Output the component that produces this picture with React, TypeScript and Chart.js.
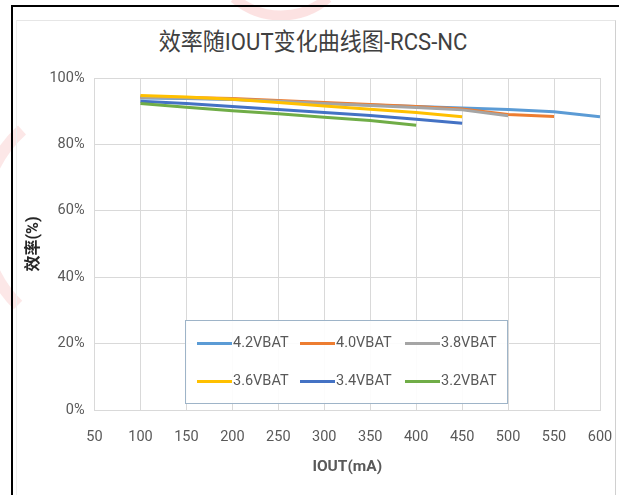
import React, { useEffect, useRef } from "react";
import { Chart, registerables } from "chart.js";

Chart.register(...registerables);

// Output current (mA) at each measurement point
const IOUT_MA = [100, 150, 200, 250, 300, 350, 400, 450, 500, 550, 600];

// Efficiency (%) per battery voltage; shorter series stop at lower currents
const EFF_42V = [94.0, 93.8, 93.5, 93.0, 92.4, 91.9, 91.4, 91.0, 90.5, 89.8, 88.3];
const EFF_40V = [94.3, 94.1, 93.8, 93.2, 92.6, 92.0, 91.4, 90.7, 89.0, 88.4];
const EFF_38V = [94.2, 94.0, 93.6, 93.0, 92.3, 91.7, 91.1, 90.4, 88.6];
const EFF_36V = [94.7, 94.3, 93.6, 92.6, 91.6, 90.6, 89.6, 88.3];
const EFF_34V = [93.0, 92.3, 91.4, 90.5, 89.6, 88.7, 87.6, 86.4];
const EFF_32V = [92.3, 91.2, 90.1, 89.2, 88.2, 87.2, 85.8];

const SERIES_NAMES = ["4.2VBAT", "4.0VBAT", "3.8VBAT", "3.6VBAT", "3.4VBAT", "3.2VBAT"];
const SERIES_VALUES = [EFF_42V, EFF_40V, EFF_38V, EFF_36V, EFF_34V, EFF_32V];
const SERIES_COLORS = ["#5B9BD5", "#ED7D31", "#A5A5A5", "#FFC000", "#4472C4", "#70AD47"];

const X_MIN = 50;
const X_MAX = 600;
const X_STEP = 50;
const Y_MIN = 0;
const Y_MAX = 100;
const Y_STEP = 20;

const TITLE = "效率随IOUT变化曲线图-RCS-NC";
const X_TITLE = "IOUT(mA)";
const Y_TITLE = "效率(%)";

const LATIN = 'Roboto, "Noto Sans CJK SC", sans-serif';
const TEXT_GRAY = "#595959";
const GRID = "#D9D9D9";

export default function App() {
  const canvasRef = useRef<HTMLCanvasElement | null>(null);

  useEffect(() => {
    const canvas = canvasRef.current;
    if (!canvas) return;

    const datasets = SERIES_NAMES.map((name, i) => ({
      label: name,
      data: SERIES_VALUES[i].map((v, j) => ({ x: IOUT_MA[j], y: v })),
      borderColor: SERIES_COLORS[i],
      backgroundColor: SERIES_COLORS[i],
      borderWidth: 3,
      pointRadius: 0,
      tension: 0,
      fill: false,
      // first series sits at the bottom of the stack
      order: SERIES_NAMES.length - i,
    }));

    const chart = new Chart(canvas, {
      type: "line",
      data: { datasets },
      options: {
        animation: false,
        responsive: false,
        maintainAspectRatio: false,
        devicePixelRatio: 1,
        layout: { padding: { left: 20, right: 19, top: 78, bottom: 19 } },
        plugins: {
          legend: { display: false },
          title: { display: false },
          tooltip: { enabled: false },
        },
        scales: {
          x: {
            type: "linear",
            min: X_MIN,
            max: X_MAX,
            afterFit: (s: any) => {
              s.height = 66;
              s.paddingLeft = 0;
              s.paddingRight = 0;
            },
            ticks: {
              stepSize: X_STEP,
              color: TEXT_GRAY,
              padding: 19,
              font: { family: LATIN, size: 14.5 },
            },
            grid: { color: GRID, drawTicks: false },
            border: { color: GRID },
            title: {
              display: true,
              text: X_TITLE,
              color: TEXT_GRAY,
              font: { family: LATIN, size: 15.5, weight: "bold" },
              padding: { top: 0, bottom: 0 },
            },
          },
          y: {
            min: Y_MIN,
            max: Y_MAX,
            afterFit: (s: any) => {
              s.width = 74.5;
            },
            ticks: {
              stepSize: Y_STEP,
              color: TEXT_GRAY,
              padding: 10,
              font: { family: LATIN, size: 14.5 },
              callback: (v: any) => `${v}%`,
            },
            grid: { color: GRID, drawTicks: false },
            border: { color: GRID },
            title: {
              display: true,
              text: Y_TITLE,
              color: "#262626",
              font: { family: LATIN, size: 16, weight: "bold" },
              padding: { top: 4, bottom: 0 },
            },
          },
        },
      },
    });

    return () => chart.destroy();
  }, []);

  return (
    <div
      style={{
        position: "fixed",
        left: 0,
        top: 0,
        width: 619,
        height: 495,
        overflow: "hidden",
        background: "#ffffff",
      }}
    >
      {/* faint logo mark in the page background */}
      <svg width={619} height={495} style={{ position: "absolute", left: 0, top: 0 }}>
        <path
          d="M 234 -2 A 72 72 0 0 0 328 -2"
          fill="none"
          stroke="#F4A0A0"
          strokeWidth={10}
          opacity={0.3}
        />
        <path
          d="M 22 130 A 120 120 0 0 0 18 305"
          fill="none"
          stroke="#F4A0A0"
          strokeWidth={12}
          opacity={0.25}
        />
      </svg>

      {/* outer frame */}
      <div
        style={{
          position: "absolute",
          left: 11,
          top: 5,
          width: 700,
          height: 600,
          borderLeft: "2px solid #000",
          borderTop: "2px solid #000",
        }}
      />
      {/* chart area border */}
      <div
        style={{
          position: "absolute",
          left: 16,
          top: 20,
          width: 598,
          height: 600,
          borderTop: "1px solid #E6E6E6",
          borderRight: "1px solid #D0D0D0",
          borderLeft: "1px solid #EEEEEE",
        }}
      />

      <div
        style={{
          position: "absolute",
          left: 11,
          width: 604,
          top: 27,
          textAlign: "center",
          fontFamily: LATIN,
          fontSize: 24,
          lineHeight: "30px",
          color: "#404040",
          whiteSpace: "nowrap",
          transform: "scaleX(0.92)",
        }}
      >
        {TITLE}
      </div>

      <canvas
        ref={canvasRef}
        width={619}
        height={495}
        style={{ position: "absolute", left: 0, top: 0, width: 619, height: 495 }}
      />

      {/* legend box inside the plot */}
      <div
        style={{
          position: "absolute",
          left: 185,
          top: 320,
          width: 321,
          height: 82,
          border: "1px solid #9EB4C8",
          background: "rgba(255,255,255,0.92)",
        }}
      >
        {SERIES_NAMES.map((name, i) => {
          const col = i % 3;
          const row = Math.floor(i / 3);
          const lefts = [11, 114, 219];
          return (
            <div
              key={name}
              style={{
                position: "absolute",
                left: lefts[col],
                top: row === 0 ? 11 : 49,
                height: 22,
                display: "flex",
                alignItems: "center",
                whiteSpace: "nowrap",
              }}
            >
              <span
                style={{
                  display: "inline-block",
                  width: 35,
                  height: 3,
                  background: SERIES_COLORS[i],
                  marginRight: 1,
                }}
              />
              <span
                style={{
                  fontFamily: LATIN,
                  fontSize: 14.5,
                  color: TEXT_GRAY,
                  lineHeight: "22px",
                }}
              >
                {name}
              </span>
            </div>
          );
        })}
      </div>
    </div>
  );
}
